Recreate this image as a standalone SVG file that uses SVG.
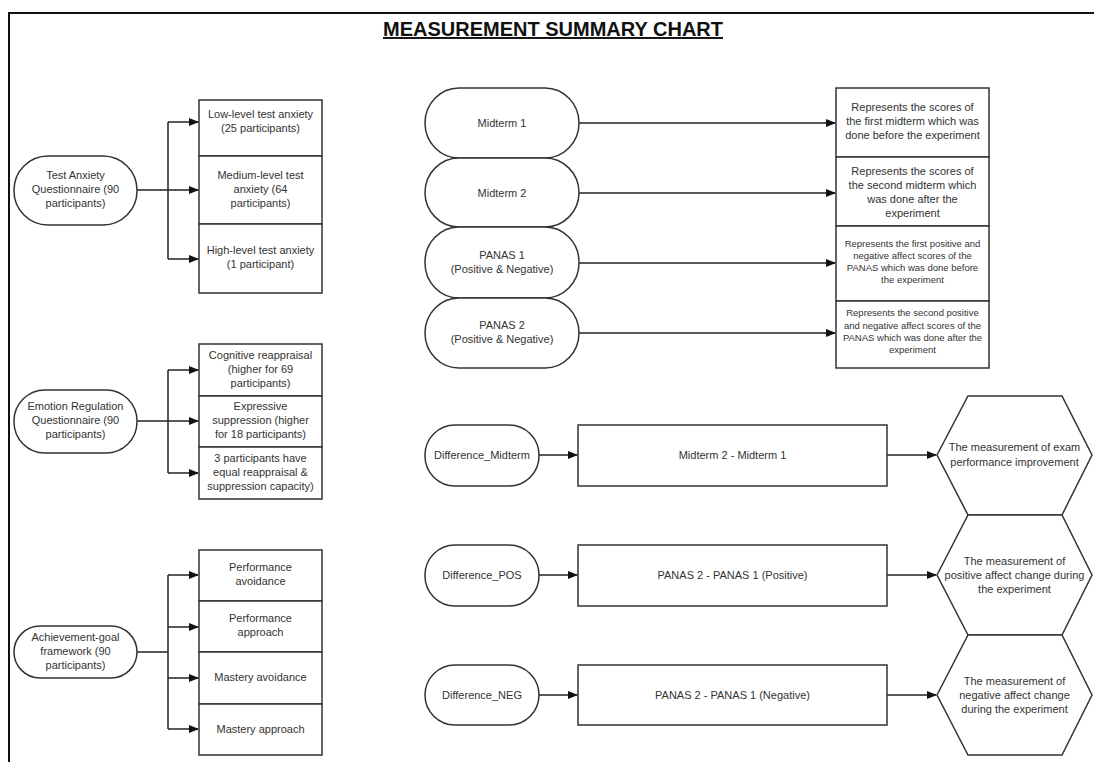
<svg xmlns="http://www.w3.org/2000/svg" width="1094" height="762" viewBox="0 0 1094 762">
<style>
.s{fill:#fff;stroke:#333;stroke-width:1.5}
.c{fill:none;stroke:#222;stroke-width:1.5}
text{font-family:"Liberation Sans",Arial,sans-serif;font-size:11px;fill:#333;text-anchor:middle}
.sm{font-size:9.5px}
.t{font-size:19.5px;font-weight:bold;fill:#111;text-decoration:underline}
</style>
<defs>
<marker id="a" markerWidth="10" markerHeight="8" refX="9" refY="4" orient="auto" markerUnits="userSpaceOnUse">
<path d="M0,0 L10,4 L0,8 Z" fill="#111"/>
</marker>
</defs>
<rect width="1094" height="762" fill="#fff"/>
<path d="M9,762 V13 H1094" fill="none" stroke="#111" stroke-width="2"/>
<text class="t" x="553" y="36" textLength="340" lengthAdjust="spacingAndGlyphs">MEASUREMENT SUMMARY CHART</text>

<g id="connectors">
<path class="c" d="M137,190 H198" marker-end="url(#a)"/>
<path class="c" d="M168,122 V259"/>
<path class="c" d="M168,122 H198" marker-end="url(#a)"/>
<path class="c" d="M168,259 H198" marker-end="url(#a)"/>
<path class="c" d="M137,421 H198" marker-end="url(#a)"/>
<path class="c" d="M168,370 V473"/>
<path class="c" d="M168,370 H198" marker-end="url(#a)"/>
<path class="c" d="M168,473 H198" marker-end="url(#a)"/>
<path class="c" d="M137,652 H168 M168,575 V729"/>
<path class="c" d="M168,575 H198" marker-end="url(#a)"/>
<path class="c" d="M168,627 H198" marker-end="url(#a)"/>
<path class="c" d="M168,678 H198" marker-end="url(#a)"/>
<path class="c" d="M168,729 H198" marker-end="url(#a)"/>
<path class="c" d="M579,123 H835" marker-end="url(#a)"/>
<path class="c" d="M579,193 H835" marker-end="url(#a)"/>
<path class="c" d="M579,263 H835" marker-end="url(#a)"/>
<path class="c" d="M579,333 H835" marker-end="url(#a)"/>
<path class="c" d="M539,455 H577" marker-end="url(#a)"/>
<path class="c" d="M539,575 H577" marker-end="url(#a)"/>
<path class="c" d="M539,695 H577" marker-end="url(#a)"/>
<path class="c" d="M887,455 H936" marker-end="url(#a)"/>
<path class="c" d="M887,575 H936" marker-end="url(#a)"/>
<path class="c" d="M887,695 H936" marker-end="url(#a)"/>
</g>

<g id="test-anxiety">
<rect class="s" x="14" y="156" width="123" height="69" rx="34" ry="34"/>
<text x="75.5" y="179">Test Anxiety</text>
<text x="75.5" y="193">Questionnaire (90</text>
<text x="75.5" y="207">participants)</text>
</g>
<g id="low-anxiety">
<rect class="s" x="199" y="100" width="123" height="56"/>
<text x="260.5" y="118">Low-level test anxiety</text>
<text x="260.5" y="132">(25 participants)</text>
</g>
<g id="medium-anxiety">
<rect class="s" x="199" y="156" width="123" height="68"/>
<text x="260.5" y="179">Medium-level test</text>
<text x="260.5" y="193">anxiety (64</text>
<text x="260.5" y="207">participants)</text>
</g>
<g id="high-anxiety">
<rect class="s" x="199" y="224" width="123" height="69"/>
<text x="260.5" y="254">High-level test anxiety</text>
<text x="260.5" y="268">(1 participant)</text>
</g>

<g id="emotion-regulation">
<rect class="s" x="14" y="390" width="123" height="63" rx="31" ry="31"/>
<text x="75.5" y="410">Emotion Regulation</text>
<text x="75.5" y="424">Questionnaire (90</text>
<text x="75.5" y="438">participants)</text>
</g>
<g id="cognitive">
<rect class="s" x="199" y="344" width="123" height="52"/>
<text x="260.5" y="359">Cognitive reappraisal</text>
<text x="260.5" y="373">(higher for 69</text>
<text x="260.5" y="387">participants)</text>
</g>
<g id="expressive">
<rect class="s" x="199" y="396" width="123" height="51"/>
<text x="260.5" y="410">Expressive</text>
<text x="260.5" y="424">suppression (higher</text>
<text x="260.5" y="438">for 18 participants)</text>
</g>
<g id="equal">
<rect class="s" x="199" y="447" width="123" height="52"/>
<text x="260.5" y="462">3 participants have</text>
<text x="260.5" y="476">equal reappraisal &amp;</text>
<text x="260.5" y="490">suppression capacity)</text>
</g>

<g id="achievement-goal">
<rect class="s" x="14" y="626" width="123" height="52" rx="26" ry="26"/>
<text x="75.5" y="641">Achievement-goal</text>
<text x="75.5" y="655">framework (90</text>
<text x="75.5" y="669">participants)</text>
</g>
<g id="perf-avoid">
<rect class="s" x="199" y="550" width="123" height="51"/>
<text x="260.5" y="571">Performance</text>
<text x="260.5" y="585">avoidance</text>
</g>
<g id="perf-approach">
<rect class="s" x="199" y="601" width="123" height="51"/>
<text x="260.5" y="622">Performance</text>
<text x="260.5" y="636">approach</text>
</g>
<g id="mastery-avoid">
<rect class="s" x="199" y="652" width="123" height="52"/>
<text x="260.5" y="681">Mastery avoidance</text>
</g>
<g id="mastery-approach">
<rect class="s" x="199" y="704" width="123" height="51"/>
<text x="260.5" y="733">Mastery approach</text>
</g>

<g id="midterm1">
<rect class="s" x="425" y="88" width="154" height="70" rx="34" ry="35"/>
<text x="502" y="127">Midterm 1</text>
</g>
<g id="midterm2">
<rect class="s" x="425" y="158" width="154" height="69" rx="34" ry="34.5"/>
<text x="502" y="197">Midterm 2</text>
</g>
<g id="panas1">
<rect class="s" x="425" y="227" width="154" height="71" rx="34" ry="35"/>
<text x="502" y="259">PANAS 1</text>
<text x="502" y="273">(Positive &amp; Negative)</text>
</g>
<g id="panas2">
<rect class="s" x="425" y="298" width="154" height="70" rx="34" ry="35"/>
<text x="502" y="329">PANAS 2</text>
<text x="502" y="343">(Positive &amp; Negative)</text>
</g>

<g id="desc-midterm1">
<rect class="s" x="836" y="88" width="153" height="69"/>
<text x="912.5" y="111">Represents the scores of</text>
<text x="912.5" y="125">the first midterm which was</text>
<text x="912.5" y="139">done before the experiment</text>
</g>
<g id="desc-midterm2">
<rect class="s" x="836" y="157" width="153" height="69"/>
<text x="912.5" y="175">Represents the scores of</text>
<text x="912.5" y="189">the second midterm which</text>
<text x="912.5" y="203">was done after the</text>
<text x="912.5" y="217">experiment</text>
</g>
<g id="desc-panas1">
<rect class="s" x="836" y="226" width="153" height="75"/>
<text class="sm" x="912.5" y="247">Represents the first positive and</text>
<text class="sm" x="912.5" y="259">negative affect scores of the</text>
<text class="sm" x="912.5" y="271">PANAS which was done before</text>
<text class="sm" x="912.5" y="283">the experiment</text>
</g>
<g id="desc-panas2">
<rect class="s" x="836" y="301" width="153" height="67"/>
<text class="sm" x="912.5" y="316">Represents the second positive</text>
<text class="sm" x="912.5" y="329">and negative affect scores of the</text>
<text class="sm" x="912.5" y="341">PANAS which was done after the</text>
<text class="sm" x="912.5" y="353">experiment</text>
</g>

<g id="diff-midterm">
<rect class="s" x="425" y="425" width="114" height="61" rx="30" ry="30"/>
<text x="482" y="459">Difference_Midterm</text>
</g>
<g id="diff-pos">
<rect class="s" x="425" y="545" width="114" height="61" rx="30" ry="30"/>
<text x="482" y="579">Difference_POS</text>
</g>
<g id="diff-neg">
<rect class="s" x="425" y="665" width="114" height="60" rx="30" ry="30"/>
<text x="482" y="699">Difference_NEG</text>
</g>

<g id="calc-midterm">
<rect class="s" x="578" y="425" width="309" height="61"/>
<text x="732.5" y="459">Midterm 2 - Midterm 1</text>
</g>
<g id="calc-pos">
<rect class="s" x="578" y="545" width="309" height="61"/>
<text x="732.5" y="579">PANAS 2 - PANAS 1 (Positive)</text>
</g>
<g id="calc-neg">
<rect class="s" x="578" y="665" width="309" height="60"/>
<text x="732.5" y="699">PANAS 2 - PANAS 1 (Negative)</text>
</g>

<g id="meaning-exam">
<polygon class="s" points="937,455 968,396 1062,396 1092,455 1062,515 968,515"/>
<text x="1014.5" y="451">The measurement of exam</text>
<text x="1014.5" y="466">performance improvement</text>
</g>
<g id="meaning-pos">
<polygon class="s" points="937,575 968,515 1062,515 1092,575 1062,635 968,635"/>
<text x="1014.5" y="565">The measurement of</text>
<text x="1014.5" y="579">positive affect change during</text>
<text x="1014.5" y="593">the experiment</text>
</g>
<g id="meaning-neg">
<polygon class="s" points="937,695 968,635 1062,635 1092,695 1062,755 968,755"/>
<text x="1014.5" y="685">The measurement of</text>
<text x="1014.5" y="699">negative affect change</text>
<text x="1014.5" y="713">during the experiment</text>
</g>
</svg>
